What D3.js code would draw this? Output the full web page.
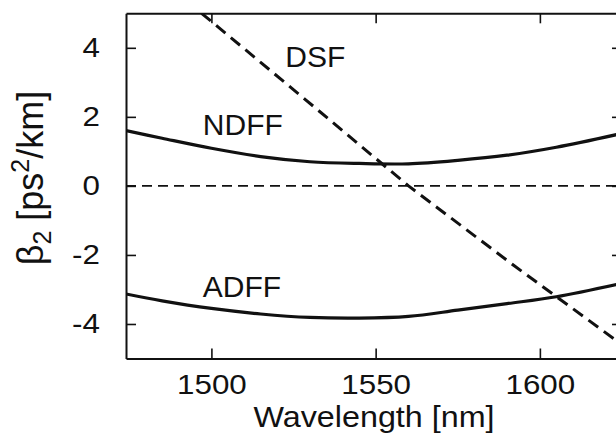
<!DOCTYPE html>
<html>
<head>
<meta charset="utf-8">
<script src="https://cdn.jsdelivr.net/npm/d3@7"></script>
<style>
  html, body { margin: 0; padding: 0; background: #fff; }
  svg { display: block; font-family: "Liberation Sans", Arial, Helvetica, sans-serif; }
</style>
</head>
<body>
<svg id="chart" width="616" height="446"></svg>
<script>
// Group-velocity dispersion of three fibre types versus wavelength
const wavelengths = [1474, 1485, 1500, 1515, 1530, 1545, 1560, 1575, 1590, 1605, 1625];
const ndffBeta2 = [1.60, 1.38, 1.09, 0.85, 0.70, 0.65, 0.64, 0.74, 0.89, 1.12, 1.52];
const adffBeta2 = [-3.13, -3.33, -3.55, -3.71, -3.81, -3.83, -3.78, -3.60, -3.41, -3.21, -2.82];
const dsfWavelengths = [1497, 1528, 1560, 1592, 1625];
const dsfBeta2 = [5.0, 2.55, 0.0, -2.3, -4.6];

const xTicks = [1500, 1550, 1600];
const yTicks = [-4, -2, 0, 2, 4];
const xDomain = [1474, 1625];
const yDomain = [-5, 5];

const seriesLabels = [
  { name: "DSF", at: [1522.5, 3.45] },
  { name: "NDFF", at: [1497.4, 1.47] },
  { name: "ADFF", at: [1497.4, -3.21] }
];

const svg = d3.select("#chart");
const plotLeft = 126, plotRight = 622, plotTop = 13.3, plotBottom = 358.5;
const tickFontWidth = 1.12; // tick numerals are set slightly wide

const x = d3.scaleLinear().domain(xDomain).range([plotLeft, plotRight]);
const y = d3.scaleLinear().domain(yDomain).range([plotBottom, plotTop]);

svg.append("defs").append("clipPath").attr("id", "plot-area")
  .append("rect").attr("x", plotLeft).attr("y", plotTop)
  .attr("width", plotRight - plotLeft).attr("height", plotBottom - plotTop);

const plot = svg.append("g").attr("clip-path", "url(#plot-area)");

// zero reference line
plot.append("line")
  .attr("x1", x(xDomain[0])).attr("x2", x(xDomain[1]))
  .attr("y1", y(0)).attr("y2", y(0))
  .attr("stroke", "#111").attr("stroke-width", 1.6)
  .attr("stroke-dasharray", "10,6");

const line = d3.line()
  .x(d => x(d[0])).y(d => y(d[1]))
  .curve(d3.curveCatmullRom.alpha(0.5));

const ndff = wavelengths.map((w, i) => [w, ndffBeta2[i]]);
const adff = wavelengths.map((w, i) => [w, adffBeta2[i]]);
const dsf = dsfWavelengths.map((w, i) => [w, dsfBeta2[i]]);

[ndff, adff].forEach(s => {
  plot.append("path").datum(s)
    .attr("d", line)
    .attr("fill", "none").attr("stroke", "#111")
    .attr("stroke-width", 3.2);
});

plot.append("path").datum(dsf)
  .attr("d", d3.line().x(d => x(d[0])).y(d => y(d[1])))
  .attr("fill", "none").attr("stroke", "#111")
  .attr("stroke-width", 3).attr("stroke-dasharray", "12,7");

// frame with inward ticks on all four sides
const plainNumber = d => String(d);

function styleAxis(g, showLabels) {
  g.attr("font-family", null).attr("font-size", null);
  g.select(".domain").attr("stroke", "#111").attr("stroke-width", 2);
  g.selectAll(".tick line").attr("stroke", "#111").attr("stroke-width", 1.6);
  if (!showLabels) g.selectAll(".tick text").remove();
  else g.selectAll(".tick text").attr("fill", "#111").attr("font-size", 28)
    .attr("transform", `scale(${tickFontWidth},1)`);
}

const gx = svg.append("g").attr("transform", `translate(0,${plotBottom})`)
  .call(d3.axisBottom(x).tickValues(xTicks).tickSizeInner(-10).tickSizeOuter(0).tickPadding(16).tickFormat(plainNumber));
styleAxis(gx, true);

const gxTop = svg.append("g").attr("transform", `translate(0,${plotTop})`)
  .call(d3.axisTop(x).tickValues(xTicks).tickSizeInner(-10).tickSizeOuter(0));
styleAxis(gxTop, false);

const gy = svg.append("g").attr("transform", `translate(${plotLeft},0)`)
  .call(d3.axisLeft(y).tickValues(yTicks).tickSizeInner(-10).tickSizeOuter(0).tickPadding(26 / tickFontWidth).tickFormat(plainNumber));
styleAxis(gy, true);

const gyRight = svg.append("g").attr("transform", `translate(${plotRight},0)`)
  .call(d3.axisRight(y).tickValues(yTicks).tickSizeInner(-10).tickSizeOuter(0));
styleAxis(gyRight, false);

// series names
seriesLabels.forEach(l => {
  svg.append("text")
    .attr("x", x(l.at[0])).attr("y", y(l.at[1]))
    .attr("font-size", 30).attr("fill", "#111")
    .text(l.name);
});

// axis titles
svg.append("text")
  .attr("x", (plotLeft + plotRight) / 2).attr("y", 427)
  .attr("text-anchor", "middle").attr("font-size", 29).attr("fill", "#111")
  .attr("textLength", 241).attr("lengthAdjust", "spacingAndGlyphs")
  .text("Wavelength [nm]");

const yTitle = svg.append("text")
  .attr("transform", "translate(43,178) rotate(-90)")
  .attr("text-anchor", "middle").attr("font-size", 36).attr("fill", "#111");
yTitle.append("tspan").text("β");
yTitle.append("tspan").attr("font-size", 25).attr("dy", 8).text("2");
yTitle.append("tspan").attr("dy", -8).text(" [ps");
yTitle.append("tspan").attr("font-size", 25).attr("dy", -14).text("2");
yTitle.append("tspan").attr("dy", 14).text("/km]");
</script>
</body>
</html>
